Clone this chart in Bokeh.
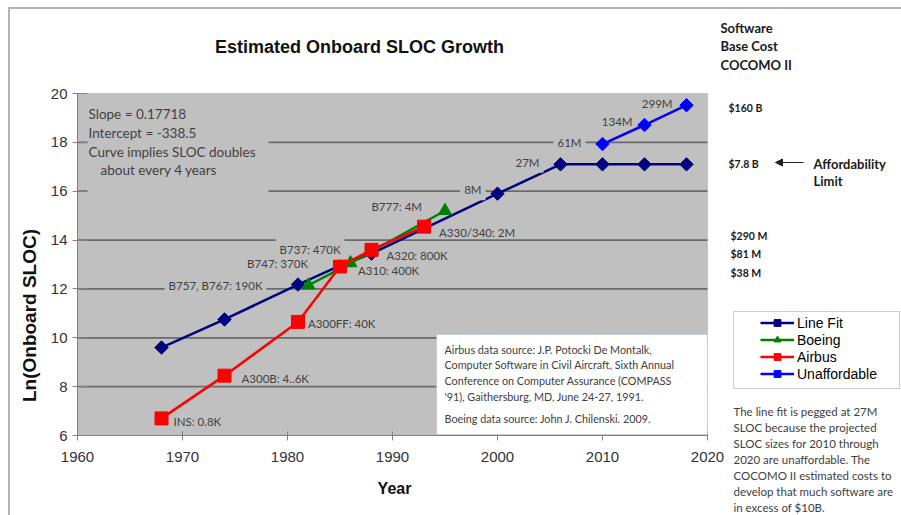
import math
from bokeh.plotting import figure
from bokeh.models import (Range1d, SingleIntervalTicker, Label, BoxAnnotation, Legend,
                          LegendItem, Arrow, NormalHead)
from bokeh.embed import file_html
from bokeh.resources import INLINE
from bokeh.core.properties import value

# ---------------- data ----------------
fit_years = [1968, 1974, 1981, 1985, 1988, 2000, 2006, 2010, 2014, 2018]
fit_ln = [9.6, 10.75, 12.18, 12.95, 13.45, 15.9, 17.1, 17.1, 17.1, 17.1]

boeing_years = [1982, 1985, 1986, 1995]
boeing_ln = [12.15, 12.82, 13.06, 15.2]
boeing_labels = ["B757, B767: 190K", "B747: 370K", "B737: 470K", "B777: 4M"]

airbus_years = [1968, 1974, 1981, 1985, 1988, 1993]
airbus_ln = [6.7, 8.45, 10.65, 12.92, 13.6, 14.55]
airbus_labels = ["INS: 0.8K", "A300B: 4..6K", "A300FF: 40K", "A310: 400K", "A320: 800K", "A330/340: 2M"]

unaff_years = [2010, 2014, 2018]
unaff_ln = [17.93, 18.71, 19.52]
unaff_labels = ["61M", "134M", "299M"]

fit_label_years = [2000, 2006]
fit_label_ln = [15.9, 17.1]
fit_labels = ["8M", "27M"]

cost_labels = ["$160 B", "$7.8 B", "$290 M", "$81 M", "$38 M"]

slope_lines = ["Slope = 0.17718", "Intercept = -338.5", "Curve implies SLOC doubles", "about every 4 years"]
source_lines = ["Airbus data source: J.P. Potocki De Montalk,",
                "Computer Software in Civil Aircraft, Sixth Annual",
                "Conference on Computer Assurance (COMPASS",
                "'91), Gaithersburg, MD, June 24-27, 1991.",
                "Boeing data source: John J. Chilenski. 2009."]
note_lines = ["The line fit is pegged at 27M",
              "SLOC because the projected",
              "SLOC sizes for 2010 through",
              "2020 are unaffordable. The",
              "COCOMO II estimated costs to",
              "develop that much software are",
              "in excess of $10B."]

# ---------------- layout ----------------
W, H = 901, 515
AL, AT, AW, AH = 77, 93, 630, 342          # chart area in picture px
X0, X1, Y0, Y1 = 1960, 2020, 6, 20
KX = AW / (X1 - X0)
KY = AH / (Y1 - Y0)
XS, XE = X0 - AL / KX, X0 + (W - AL) / KX
YS, YE = Y0 - (H - AT - AH) / KY, Y1 + AT / KY
grid_vals = list(range(Y0 + 2, Y1, 2))


def sx(xp):
    return xp


def sy(yp):
    return H - yp


NAVY, GREEN, RED, BLUE = "#000080", "#008000", "#FF0000", "#0000FF"
PLOTBG = "#C0C0C0"
CAL = "Lato"
ARIAL = "Liberation Sans"

p = figure(width=W, height=H, x_range=Range1d(XS, XE), y_range=Range1d(YS, YE),
           output_backend="svg", toolbar_location=None, title=None,
           min_border=0, min_border_left=0, min_border_right=0,
           min_border_top=0, min_border_bottom=0)
p.background_fill_color = "white"
p.border_fill_color = "white"
p.outline_line_color = None
p.grid.visible = False

xt = SingleIntervalTicker(interval=10, num_minor_ticks=0)
yt = SingleIntervalTicker(interval=2, num_minor_ticks=0)
p.xaxis.ticker = xt
p.yaxis.ticker = yt
p.xaxis.fixed_location = Y0
p.yaxis.fixed_location = X0
p.xaxis.bounds = (X0, X1)
p.yaxis.bounds = (Y0, Y1)
for ax in (p.xaxis[0], p.yaxis[0]):
    ax.axis_line_color = "#808080"
    ax.major_tick_line_color = "#808080"
    ax.minor_tick_line_color = None
    ax.major_tick_out = 5
    ax.major_label_text_font = ARIAL
    ax.major_label_text_font_size = "15px"
    ax.major_label_text_color = "#333333"
p.yaxis.major_tick_in = 10
p.xaxis.major_tick_in = 4
p.yaxis.major_label_standoff = 5
p.xaxis.major_label_standoff = 11

# chart area background
p.add_layout(BoxAnnotation(left=X0, right=X1, bottom=Y0, top=Y1, fill_color=PLOTBG,
                           fill_alpha=1, line_color="#8c8c8c", line_width=1, level="image"))
# horizontal gridlines
p.segment(x0=[X0] * len(grid_vals), x1=[X1] * len(grid_vals), y0=grid_vals, y1=grid_vals,
          line_color="#6a6a6a", line_width=1.8)

# ---------------- series ----------------
lw = 2.5
fit_line = p.line(fit_years, fit_ln, line_color=NAVY, line_width=lw)
fit_pts = p.scatter(fit_years, fit_ln, marker="square", angle=math.pi / 4, size=9.5,
                    fill_color=NAVY, line_color=NAVY)
b_line = p.line(boeing_years, boeing_ln, line_color=GREEN, line_width=lw)
b_pts = p.scatter(boeing_years, boeing_ln, marker="triangle", size=13,
                  fill_color=GREEN, line_color=GREEN)
a_line = p.line(airbus_years, airbus_ln, line_color=RED, line_width=lw)
a_pts = p.scatter(airbus_years, airbus_ln, marker="square", size=13,
                  fill_color=RED, line_color=RED)
u_line = p.line(unaff_years, unaff_ln, line_color=BLUE, line_width=lw)
u_pts = p.scatter(unaff_years, unaff_ln, marker="square", angle=math.pi / 4, size=9.5,
                  fill_color=BLUE, line_color=BLUE)

# ---------------- point labels ----------------
lbl_style = dict(text_font=value(CAL), text_font_size="11.5px", text_color="#404040",
                 text_baseline="middle")
airbus_dx = [12, 17, 10, 18, 15, 15]
airbus_dy = [3, 3, 2, 4, 6, 6]
p.text(airbus_years, airbus_ln, text=airbus_labels, x_offset=airbus_dx, y_offset=airbus_dy,
       text_align="left", **lbl_style)

boeing_dx = [-42, -28, -6, -19]
boeing_dy = [0, -5, -14, -4]
p.text(boeing_years, boeing_ln, text=boeing_labels, x_offset=boeing_dx, y_offset=boeing_dy,
       text_align="right", background_fill_color=PLOTBG, padding=4, **lbl_style)

fit_dx = [-12, -17]
fit_dy = [-4, -2]
p.text(fit_label_years, fit_label_ln, text=fit_labels, x_offset=fit_dx, y_offset=fit_dy,
       text_align="right", background_fill_color=PLOTBG, padding=4, **lbl_style)

# "61M" hides the gridline behind it; the two others sit on plain background
unaff_dx = [-17, -12, -14]
unaff_dy = [-2, -4, -2]
p.text(unaff_years[:1], unaff_ln[:1], text=unaff_labels[:1], x_offset=unaff_dx[:1],
       y_offset=unaff_dy[:1], text_align="right", background_fill_color=PLOTBG, padding=4,
       **lbl_style)
p.text(unaff_years[1:], unaff_ln[1:], text=unaff_labels[1:], x_offset=unaff_dx[1:],
       y_offset=unaff_dy[1:], text_align="right", **lbl_style)


# ---------------- boxes (screen units) ----------------
def box(l, r, t, b, **kw):
    p.add_layout(BoxAnnotation(left=sx(l), right=sx(r), top=sy(t), bottom=sy(b),
                               left_units="screen", right_units="screen",
                               top_units="screen", bottom_units="screen", **kw))


# outer chart-area border (left and top edges)
box(7.5, 9.5, 6.5, 515, fill_color="#b4b4b4", fill_alpha=1, line_alpha=0)
box(7.5, 901, 6.5, 8.5, fill_color="#b4b4b4", fill_alpha=1, line_alpha=0)
box(87, 268, 100, 197, fill_color=PLOTBG, fill_alpha=1, line_alpha=0)
box(436, 707, 334, 434, fill_color="white", fill_alpha=1, line_color="#8fa9bb", line_width=1.2)
box(733, 899, 311, 388, fill_color="white", fill_alpha=1, line_color="#555555", line_width=1)


def lab(text, xp, yp, font=CAL, size="13px", color="#404040", style="normal",
        align="left", angle=0):
    p.add_layout(Label(x=sx(xp), y=sy(yp), x_units="screen", y_units="screen",
                       text=text, text_font=font, text_font_size=size,
                       text_color=color, text_font_style=style, text_align=align,
                       text_baseline="middle", angle=angle))


lab("Estimated Onboard SLOC Growth", 359, 46, font=ARIAL, size="18px", color="#111111",
    style="bold", align="center")
lab("Year", 394, 488, font=ARIAL, size="16px", color="#111111", style="bold", align="center")
lab("Ln(Onboard SLOC)", 28.5, 315, font=ARIAL, size="19px", color="#111111", style="bold",
    align="center", angle=math.pi / 2)

for txt, xp, yp in zip(slope_lines, [88, 88, 88, 100], [113, 132, 151, 169]):
    lab(txt, xp, yp, size="13.5px")

for txt, yp in zip(source_lines, [349, 364, 380, 396, 418]):
    lab(txt, 444, yp, size="10.8px")

for txt, yp in zip(["Software", "Base Cost", "COCOMO II"], [27, 45, 64]):
    lab(txt, 720, yp, size="13px", color="#1a1a1a", style="bold")
for txt, xp, yp in zip(cost_labels, [728, 728, 730, 730, 730], [107, 163, 235, 253, 272]):
    lab(txt, xp, yp, size="10.5px", color="#1a1a1a", style="bold")
lab("Affordability", 813, 163, size="13px", color="#1a1a1a", style="bold")
lab("Limit", 813, 180, size="13px", color="#1a1a1a", style="bold")
p.add_layout(Arrow(x_start=sx(803), y_start=sy(162), x_end=sx(775), y_end=sy(162),
                   start_units="screen", end_units="screen",
                   line_color="#222222", line_width=1.2,
                   end=NormalHead(size=7, fill_color="#222222", line_color="#222222")))

for i, txt in enumerate(note_lines):
    lab(txt, 733, 411 + 16 * i, size="11.5px")

legend = Legend(items=[LegendItem(label="Line Fit", renderers=[fit_line, fit_pts]),
                       LegendItem(label="Boeing", renderers=[b_line, b_pts]),
                       LegendItem(label="Airbus", renderers=[a_line, a_pts]),
                       LegendItem(label="Unaffordable", renderers=[u_line, u_pts])],
                location=(760, H - 382), padding=0, margin=0,
                spacing=0, glyph_width=34, glyph_height=17, label_height=17,
                label_standoff=3, border_line_alpha=0, background_fill_alpha=0,
                label_text_font=ARIAL, label_text_font_size="14px",
                label_text_color="#000000")
p.add_layout(legend)

open("out.html", "w").write(file_html(p, INLINE))
